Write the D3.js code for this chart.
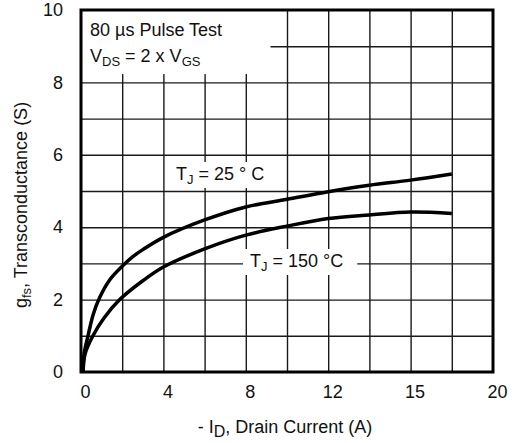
<!DOCTYPE html>
<html>
<head>
<meta charset="utf-8">
<script src="https://cdn.jsdelivr.net/npm/d3@7"></script>
<style>
  body { margin: 0; background: #fff; }
  text { font-family: "Liberation Sans", Arial, sans-serif; fill: #111; }
</style>
</head>
<body>
<div id="chart"></div>
<script>
// axis ticks and grid
var xTicks = [0, 4, 8, 12, 16, 20];
var xTickLabels = ["0", "4", "8", "12", "15", "20"];
var yTicks = [0, 2, 4, 6, 8, 10];
var xGrid = [2, 4, 6, 8, 10, 12, 14, 16, 18];
var yGrid = [1, 2, 3, 4, 5, 6, 7, 8, 9];

// curves: drain current (A) vs gfs (S)
var id25   = [0.1, 0.15, 0.34, 0.6, 0.9, 1.4, 2, 2.5, 3, 4, 6, 8, 10, 12, 14, 16, 18];
var gfs25  = [0, 0.5, 1.0, 1.6, 2.05, 2.55, 2.92, 3.18, 3.38, 3.72, 4.2, 4.56, 4.77, 4.98, 5.16, 5.3, 5.47];
var id150  = [0.1, 0.2, 0.58, 1.1, 1.88, 3, 4, 6, 8, 10, 12, 14, 16, 18];
var gfs150 = [0, 0.5, 1.0, 1.48, 2.0, 2.52, 2.9, 3.4, 3.78, 4.03, 4.24, 4.34, 4.42, 4.38];

var margin = {top: 10, right: 25, bottom: 71, left: 81},
    width = 518 - margin.left - margin.right,
    height = 443 - margin.top - margin.bottom;

var svg = d3.select("#chart")
  .append("svg")
    .attr("width", width + margin.left + margin.right)
    .attr("height", height + margin.top + margin.bottom)
  .append("g")
    .attr("transform", "translate(" + margin.left + "," + margin.top + ")");

var x = d3.scaleLinear().domain([0, 20]).range([0, width]);
var y = d3.scaleLinear().domain([0, 10]).range([height, 0]);

// grid
svg.append("g")
  .attr("transform", "translate(0," + height + ")")
  .call(d3.axisBottom(x).tickValues(xGrid).tickSize(-height).tickFormat(""))
  .call(g => g.select(".domain").remove())
  .call(g => g.selectAll("line").attr("stroke", "#1a1a1a").attr("stroke-width", 1.4));

svg.append("g")
  .call(d3.axisLeft(y).tickValues(yGrid).tickSize(-width).tickFormat(""))
  .call(g => g.select(".domain").remove())
  .call(g => g.selectAll("line").attr("stroke", "#1a1a1a").attr("stroke-width", 1.4));

// white box behind the test conditions
svg.append("rect")
  .attr("x", x(-0.3)).attr("y", y(10.1))
  .attr("width", x(9.2) - x(-0.3)).attr("height", y(8.23) - y(10.1))
  .attr("fill", "#fff");

// tick labels
svg.append("g")
  .attr("transform", "translate(0," + height + ")")
  .call(d3.axisBottom(x).tickValues(xTicks).tickSize(0).tickPadding(13)
    .tickFormat((d, i) => xTickLabels[i]))
  .call(g => g.select(".domain").remove())
  .call(g => g.selectAll("text").attr("dx", 4).style("font-size", "18px")
    .style("font-family", "Liberation Sans, Arial, sans-serif").attr("fill", "#111"));

svg.append("g")
  .call(d3.axisLeft(y).tickValues(yTicks).tickSize(0).tickPadding(18))
  .call(g => g.select(".domain").remove())
  .call(g => g.selectAll("text").style("font-size", "18px")
    .style("font-family", "Liberation Sans, Arial, sans-serif").attr("fill", "#111"));

// curves
var line = d3.line()
  .x(d => x(d[0]))
  .y(d => y(d[1]))
  .curve(d3.curveCatmullRom.alpha(0.5));

svg.append("path")
  .datum(id25.map((v, i) => [v, gfs25[i]]))
  .attr("d", line)
  .attr("fill", "none").attr("stroke", "#000").attr("stroke-width", 3.5);

svg.append("path")
  .datum(id150.map((v, i) => [v, gfs150[i]]))
  .attr("d", line)
  .attr("fill", "none").attr("stroke", "#000").attr("stroke-width", 3.5);

// frame
svg.append("rect")
  .attr("width", width).attr("height", height)
  .attr("fill", "none").attr("stroke", "#000").attr("stroke-width", 3);

// header text
var hdr = svg.append("g").style("font-size", "18px");
hdr.append("text").attr("x", 9).attr("y", 26).text("80 µs Pulse Test");
var t2 = hdr.append("text").attr("x", 9).attr("y", 52);
t2.append("tspan").text("V");
t2.append("tspan").attr("dy", 4).style("font-size", "13px").text("DS");
t2.append("tspan").attr("dy", -4).text(" = 2 x V");
t2.append("tspan").attr("dy", 4).style("font-size", "13px").text("GS");

// curve labels with white background
function tjLabel(px, py, rest, padL, padR) {
  var g = svg.append("g").style("font-size", "18px");
  var bg = g.append("rect").attr("fill", "#fff");
  var t = g.append("text").attr("x", px).attr("y", py);
  t.append("tspan").text("T");
  t.append("tspan").attr("dy", 4).style("font-size", "13px").text("J");
  t.append("tspan").attr("dy", -4).text(rest);
  var b = t.node().getBBox();
  bg.attr("x", b.x - padL).attr("y", b.y - 2)
    .attr("width", b.width + padL + padR).attr("height", b.height + 3);
}
tjLabel(95, 170, " = 25 ° C", 7, 4);
tjLabel(169, 257, " = 150 °C", 7, 14);

// axis titles
svg.append("text")
  .attr("x", width / 2 - 2)
  .attr("y", height + 61)
  .attr("text-anchor", "middle")
  .style("font-size", "18px")
  .call(t => {
    t.append("tspan").text("- I");
    t.append("tspan").attr("dy", 4).style("font-size", "16px").text("D");
    t.append("tspan").attr("dy", -4).text(", Drain Current (A)");
  });

svg.append("text")
  .attr("transform", "translate(" + (-54) + "," + (height / 2 + 14) + ") rotate(-90)")
  .attr("text-anchor", "middle")
  .style("font-size", "18px")
  .call(t => {
    t.append("tspan").text("g");
    t.append("tspan").attr("dy", 4).style("font-size", "13px").text("fs");
    t.append("tspan").attr("dy", -4).text(", Transconductance (S)");
  });
</script>
</body>
</html>
